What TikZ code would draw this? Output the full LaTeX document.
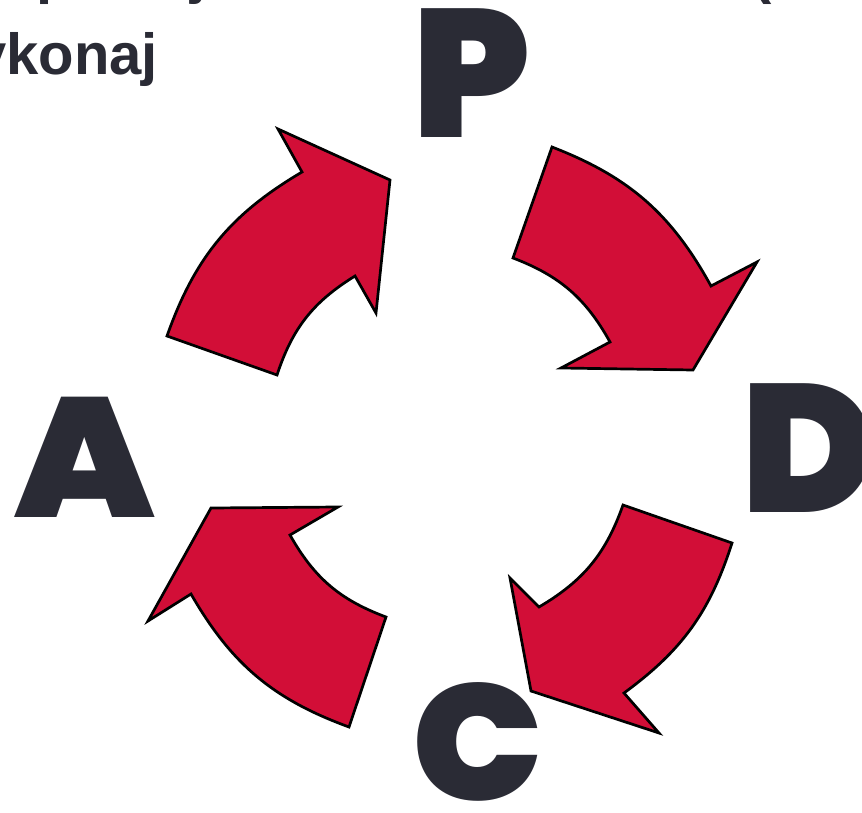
\documentclass[tikz,border=0pt]{standalone}
\usepackage{fontspec}
\setmainfont{Liberation Sans}
\IfFontExistsTF{Poppins Black}{\newfontfamily\heavy{Poppins Black}}{\newfontfamily\heavy{Poppins}[UprightFont={* Bold}]}
\definecolor{inkdark}{RGB}{42,43,53}
\definecolor{cyclered}{RGB}{210,14,55}
\tikzset{
  cyclearrow/.style={fill=cyclered, draw=black, line width=2.7pt, line join=miter},
  bigletter/.style={inner sep=0pt, anchor=base, text=inkdark},
  toptext/.style={inner sep=0pt, text=inkdark, font=\bfseries\fontsize{58}{58}\selectfont}
}
\begin{document}
\begin{tikzpicture}[x=1pt,y=1pt]
\useasboundingbox (0,0) rectangle (862,-813);
\clip (0,0) rectangle (862,-813);
% top text (partly outside the picture)
\node[toptext, anchor=base east] (line2) at (158,-75) {wykonaj};
\node[toptext, anchor=base west] (line1) at (36,7) {planuj};
\node[toptext, anchor=base west] (paren) at (752,7) {(};
% letters
\node[bigletter, font=\heavy\fontsize{182}{182}\selectfont] (P) at (472,-138) {P};
\node[bigletter, font=\heavy\fontsize{182}{182}\selectfont] (D) at (809,-512) {D};
\node[bigletter, font=\heavy\fontsize{170}{170}\selectfont] (A) at (85,-517) {\scalebox{1.07}[1]{A}};
\node[bigletter, font=\heavy\fontsize{165}{165}\selectfont] (C) at (478,-800) {\scalebox{1.05}[1]{C}};
% arrow towards P
\draw[cyclearrow] (167,-336) to[bend left=20] (302,-172) -- (278,-129) -- (390,-180)
  -- (376,-313) -- (355,-276) to[bend right=20] (277,-375) -- cycle;
% arrow towards D
\draw[cyclearrow] (552,-147) to[bend left=20] (711,-286) -- (757,-262) -- (693,-370)
  -- (561,-368) -- (610,-342) to[bend right=20] (513,-258) -- cycle;
% arrow towards C
\draw[cyclearrow] (732,-543) to[bend left=18] (624,-693) -- (659,-733) -- (531,-691)
  -- (510,-578) -- (539,-607) to[bend right=20] (623,-505) -- cycle;
% arrow towards A
\draw[cyclearrow] (349,-727) to[bend left=20] (191,-594) -- (148,-621) -- (211,-508)
  -- (338,-507) -- (290,-535) to[bend right=20] (386,-617) -- cycle;
\end{tikzpicture}
\end{document}
